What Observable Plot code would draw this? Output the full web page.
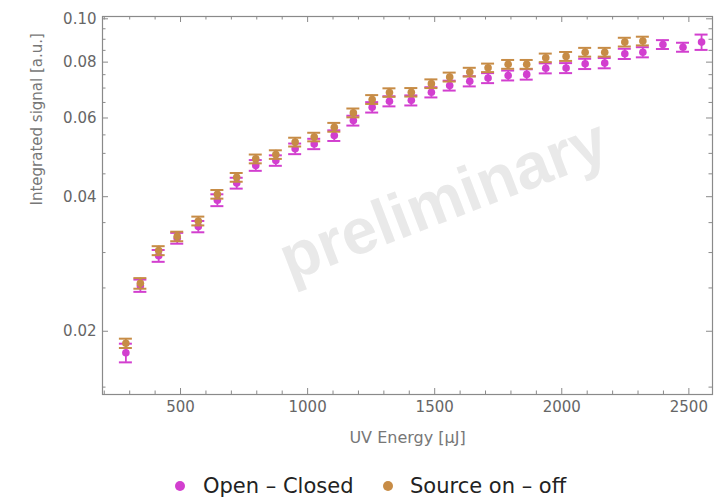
<!DOCTYPE html>
<html>
<head>
<meta charset="utf-8">
<script src="https://cdn.jsdelivr.net/npm/d3@7"></script>
<script src="https://cdn.jsdelivr.net/npm/@observablehq/plot@0.6"></script>
<style>
  html, body { margin: 0; padding: 0; background: #fff; }
  #wrap { position: relative; width: 723px; height: 499px; overflow: hidden; }
  #legend { position: absolute; left: 0; top: 468px; width: 723px; height: 36px;
            font-family: "DejaVu Sans", sans-serif; font-size: 21px; color: #222; }
  .sw { position: absolute; width: 10px; height: 10px; border-radius: 50%; top: 13px; }
  .lb { position: absolute; top: 4px; white-space: nowrap; line-height: 28px; }
</style>
</head>
<body>
<div id="wrap">
  <div id="chart"></div>
  <div id="legend"></div>
</div>
<script>
// ---- data ----
const seriesNames = ["Open – Closed", "Source on – off"];
const seriesColors = ["#d23fcf", "#c78c46"];

const energy = [285, 342, 414, 487, 570, 645, 721, 796, 875, 951, 1026, 1105, 1180, 1254, 1322, 1408,
                1487, 1559, 1638, 1710, 1789, 1862, 1937, 2017, 2092, 2169, 2248, 2319, 2398, 2477, 2550];

const openClosed = [0.0179, 0.0253, 0.0295, 0.0323, 0.0343, 0.0393, 0.0429, 0.0470, 0.0482, 0.0512,
                    0.0525, 0.0548, 0.0592, 0.0634, 0.0654, 0.0657, 0.0685, 0.0709, 0.0725, 0.0737,
                    0.0747, 0.0751, 0.0775, 0.0776, 0.0793, 0.0796, 0.0835, 0.0842, 0.0876, 0.0864, 0.0887];
const openClosedErr = [0.00086, 0.0008, 0.0009, 0.0009, 0.0010, 0.0012, 0.0012, 0.0013, 0.0013, 0.0014,
                       0.0014, 0.0015, 0.0015, 0.0017, 0.0017, 0.0017, 0.0018, 0.0018, 0.0019, 0.0019,
                       0.0019, 0.0020, 0.0020, 0.0020, 0.0021, 0.0021, 0.0022, 0.0022, 0.0020, 0.0020, 0.0035];

const sourceOnOff = [0.0188, 0.0256, 0.0303, 0.0326, 0.0353, 0.0405, 0.0442, 0.0486, 0.0497, 0.0530,
                     0.0544, 0.0572, 0.0616, 0.0660, 0.0684, 0.0685, 0.0716, 0.0741, 0.0760, 0.0777,
                     0.0791, 0.0791, 0.0818, 0.0824, 0.0842, 0.0842, 0.0887, 0.0892];
const sourceOnOffErr = [0.00045, 0.0007, 0.0007, 0.0008, 0.0008, 0.0009, 0.0010, 0.0011, 0.0011, 0.0012,
                        0.0012, 0.0013, 0.0014, 0.0015, 0.0015, 0.0015, 0.0016, 0.0017, 0.0017, 0.0017,
                        0.0018, 0.0018, 0.0018, 0.0019, 0.0019, 0.0019, 0.0020, 0.0020];

const xMajorTicks = [500, 1000, 1500, 2000, 2500];
const xMinorTicks = [200, 300, 400, 600, 700, 800, 900, 1100, 1200, 1300, 1400, 1600, 1700, 1800, 1900,
                     2100, 2200, 2300, 2400];
const yMajorTicks = [0.02, 0.04, 0.06, 0.08, 0.10];
const yMinorTicks = [0.015, 0.025, 0.03, 0.035, 0.045, 0.05, 0.055, 0.065, 0.07, 0.075, 0.085, 0.09, 0.095];

const xLabel = "UV Energy [μJ]";
const yLabel = "Integrated signal [a.u.]";
const watermark = "preliminary";

// ---- table ----
function rows(vals, errs, k) {
  return vals.map((v, i) => ({series: seriesNames[k], color: seriesColors[k], x: energy[i], y: v, e: errs[i]}));
}
const sets = [rows(openClosed, openClosedErr, 0), rows(sourceOnOff, sourceOnOffErr, 1)];

// ---- layout ----
const W = 723, H = 460, mt = 16, mb = 66, ml = 102, mr = 11;
const innerW = W - ml - mr, innerH = H - mt - mb;
const frameColor = "#8a8a8a";
const majLen = 6, minLen = 3.5;

const marks = [
  Plot.text([watermark], {frameAnchor: "middle", dx: 36, dy: -5, rotate: -21, fontSize: 64,
    fontWeight: "bold", fontFamily: "Liberation Sans, Arial, sans-serif", fill: "#e9e9e9"}),
  Plot.frame({stroke: frameColor, strokeWidth: 1.2}),
  // bottom & top inward ticks
  Plot.tickX(xMajorTicks, {x: d => d, insetTop: innerH - majLen, stroke: frameColor}),
  Plot.tickX(xMinorTicks, {x: d => d, insetTop: innerH - minLen, stroke: frameColor}),
  Plot.tickX(xMajorTicks, {x: d => d, insetBottom: innerH - majLen, stroke: frameColor}),
  Plot.tickX(xMinorTicks, {x: d => d, insetBottom: innerH - minLen, stroke: frameColor}),
  // left & right inward ticks
  Plot.tickY(yMajorTicks, {y: d => d, insetRight: innerW - majLen, stroke: frameColor}),
  Plot.tickY(yMinorTicks, {y: d => d, insetRight: innerW - minLen, stroke: frameColor}),
  Plot.tickY(yMajorTicks, {y: d => d, insetLeft: innerW - majLen, stroke: frameColor}),
  Plot.tickY(yMinorTicks, {y: d => d, insetLeft: innerW - minLen, stroke: frameColor}),
  Plot.axisX({ticks: xMajorTicks, tickSize: 0, tickPadding: 7, tickFormat: d => String(d),
    label: null, fontSize: 15, color: "#666"}),
  Plot.axisY({ticks: yMajorTicks, tickSize: 0, tickPadding: 6, tickFormat: d3.format(".2f"),
    label: null, fontSize: 15, color: "#666"}),
  Plot.text([xLabel], {frameAnchor: "bottom", dy: 48, fontSize: 16, fill: "#777"}),
  Plot.text([yLabel], {frameAnchor: "left", dx: -65, rotate: -90, fontSize: 15, fill: "#777"})
];

for (const data of sets) {
  const c = data[0].color;
  marks.push(
    Plot.ruleX(data, {x: "x", y1: d => d.y - d.e, y2: d => d.y + d.e, stroke: c, strokeWidth: 1.8}),
    Plot.ruleY(data, {y: d => d.y + d.e, x1: "x", x2: "x", insetLeft: -6.5, insetRight: -6.5, stroke: c, strokeWidth: 2}),
    Plot.ruleY(data, {y: d => d.y - d.e, x1: "x", x2: "x", insetLeft: -6.5, insetRight: -6.5, stroke: c, strokeWidth: 2}),
    Plot.dot(data, {x: "x", y: "y", r: 3.8, fill: c, stroke: "none"})
  );
}

const chart = Plot.plot({
  width: W, height: H,
  marginTop: mt, marginBottom: mb, marginLeft: ml, marginRight: mr,
  style: {fontFamily: "DejaVu Sans, sans-serif", fontSize: "15px", background: "white"},
  x: {domain: [193, 2593]},
  y: {type: "log", domain: [0.01444, 0.1012]},
  marks
});
document.getElementById("chart").appendChild(chart);

// ---- legend ----
const legend = document.getElementById("legend");
const legendPos = [{dot: 175, text: 203}, {dot: 383, text: 410}];
seriesNames.forEach((name, i) => {
  const sw = document.createElement("span");
  sw.className = "sw";
  sw.style.left = legendPos[i].dot + "px";
  sw.style.background = seriesColors[i];
  legend.appendChild(sw);
  const lb = document.createElement("span");
  lb.className = "lb";
  lb.style.left = legendPos[i].text + "px";
  lb.textContent = name;
  legend.appendChild(lb);
});
</script>
</body>
</html>
